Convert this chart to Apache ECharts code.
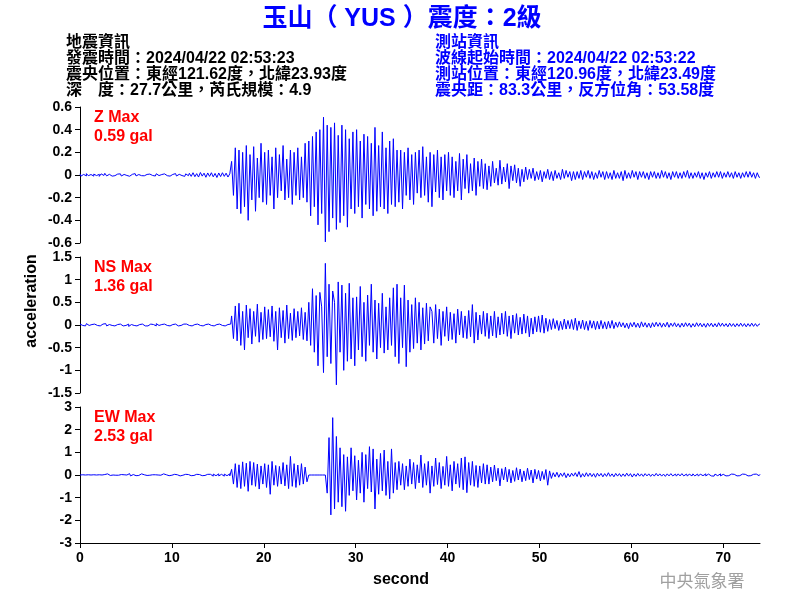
<!DOCTYPE html>
<html>
<head>
<meta charset="utf-8">
<script src="https://cdn.jsdelivr.net/npm/echarts@6/dist/echarts.min.js"></script>
<style>html,body{margin:0;padding:0;background:#fff}#c{width:800px;height:600px}</style>
</head>
<body>
<div id="c"></div>
<script>
// sample interval (seconds) of the traces below
const sampleStep = 0.2;
const timeMax = 74;
const xTicks = [0, 10, 20, 30, 40, 50, 60, 70];

// Z component (gal)
const zValues = [
0.01,-0.01,0.005,-0.008,0.012,-0.006,0.004,-0.01,0.008,-0.005,
0.006,-0.012,0.01,-0.004,0.015,-0.008,0.006,-0.01,0.004,-0.006,
0.008,-0.005,0.01,-0.009,0.005,-0.004,0.007,-0.011,0.006,-0.005,
0.012,-0.008,0.004,-0.006,0.009,-0.007,0.005,-0.012,0.008,-0.004,
0.006,-0.009,0.011,-0.005,0.004,-0.008,0.01,-0.006,0.007,-0.01,
0.005,-0.007,0.012,-0.009,0.006,-0.005,0.008,-0.012,0.01,-0.006,
0.015,-0.012,0.02,-0.015,0.012,-0.018,0.022,-0.01,0.016,-0.02,
0.018,-0.012,0.02,-0.016,0.014,-0.022,0.018,-0.014,0.02,-0.012,0.016,-0.018,0.01,
0.12,-0.18,0.24,-0.3,0.22,-0.34,0.2,-0.28,0.26,-0.4,
0.18,-0.22,0.25,-0.32,0.15,-0.2,0.28,-0.24,0.2,-0.26,
0.22,-0.18,0.16,-0.3,0.24,-0.2,0.18,-0.14,0.26,-0.22,
0.14,-0.2,0.22,-0.26,0.2,-0.18,0.24,-0.22,0.16,-0.2,0.28,-0.24,
0.3,-0.36,0.34,-0.28,0.38,-0.44,0.4,-0.34,0.51,-0.59,
0.44,-0.5,0.42,-0.38,0.46,-0.48,0.35,-0.42,0.44,-0.36,0.4,-0.46,0.32,-0.3,0.38,
-0.34,0.4,-0.28,0.3,-0.38,0.36,-0.26,0.34,-0.3,0.28,-0.36,0.42,-0.32,0.26,-0.28,0.38,-0.3,0.24,-0.34,0.3,-0.26,0.32,-0.28,0.22,
-0.24,0.22,-0.3,0.2,-0.18,0.24,-0.22,0.18,-0.26,0.2,-0.16,0.22,-0.2,0.25,-0.18,0.16,-0.24,0.2,-0.28,0.18,-0.15,0.22,-0.2,0.16,-0.22,0.18,-0.14,0.2,-0.18,
0.16,-0.2,0.12,-0.14,0.19,-0.22,0.14,-0.12,0.18,-0.16,0.1,-0.14,0.15,-0.18,0.12,-0.1,0.14,-0.12,0.1,-0.13,
0.08,-0.1,0.12,-0.07,0.06,-0.09,0.13,-0.08,0.07,-0.06,0.1,-0.12,0.08,-0.05,0.09,-0.07,0.06,-0.1,0.05,-0.06,0.07,
-0.04,0.05,-0.03,0.06,-0.05,0.03,-0.04,0.04,-0.06,0.03,
-0.03,0.05,-0.04,0.03,-0.05,0.04,-0.03,0.02,-0.04,0.05,
-0.03,0.04,-0.02,0.03,-0.05,0.03,-0.04,0.03,-0.03,0.04,
-0.04,0.03,-0.02,0.04,-0.03,0.03,-0.04,0.02,-0.03,0.04,
-0.02,0.03,-0.04,0.03,-0.03,0.02,-0.04,0.04,-0.03,0.02,
-0.03,0.03,-0.05,0.04,-0.03,0.02,-0.03,0.04,-0.02,0.03,
-0.04,0.03,-0.02,0.03,-0.03,0.02,-0.04,0.03,-0.02,0.03,
-0.03,0.02,-0.03,0.04,-0.02,0.03,-0.03,0.02,-0.04,0.03,
-0.02,0.03,-0.03,0.02,-0.03,0.03,-0.02,0.04,-0.03,0.02,
-0.03,0.02,-0.02,0.03,-0.03,0.02,-0.04,0.02,-0.02,0.03,
-0.03,0.02,-0.02,0.03,-0.02,0.03,-0.03,0.02,-0.02,0.03,
-0.02,0.02,-0.03,0.03,-0.02,0.02,-0.03,0.02,-0.02,0.03,
-0.02,0.03,-0.02,0.02,-0.03,0.02,-0.02
];

// NS component (gal)
const nsValues = [
0.02,-0.01,0.01,-0.02,0.03,-0.01,0.01,-0.02,0.02,-0.01,
0.01,-0.02,0.02,-0.01,0.03,-0.02,0.01,-0.01,0.02,-0.02,
0.01,-0.01,0.02,-0.02,0.01,-0.01,0.02,-0.03,0.01,-0.01,
0.02,-0.02,0.01,-0.01,0.02,-0.02,0.01,-0.02,0.02,-0.01,
0.01,-0.02,0.03,-0.01,0.01,-0.02,0.02,-0.01,0.02,-0.02,
0.01,-0.01,0.02,-0.02,0.01,-0.01,0.02,-0.02,0.02,-0.01,
0.02,-0.02,0.01,-0.02,0.02,-0.01,0.02,-0.02,0.01,-0.02,
0.02,-0.01,0.02,-0.02,0.01,-0.02,0.02,-0.01,0.02,-0.02,0.01,-0.01,0.02,
0.2,-0.3,0.42,-0.35,0.48,-0.45,0.3,-0.55,0.44,-0.28,
0.36,-0.42,0.3,-0.25,0.46,-0.38,0.28,-0.32,0.4,-0.3,
0.34,-0.26,0.42,-0.36,0.3,-0.55,0.38,-0.28,0.32,-0.4,
0.44,-0.3,0.26,-0.34,0.36,-0.28,0.3,-0.24,0.38,-0.32,0.28,-0.35,
0.5,-0.45,0.8,-0.6,0.65,-0.9,0.72,0.4,-1.05,1.36,
-0.7,0.9,-0.85,0.75,0.5,-1.32,0.95,-0.6,0.88,-1.0,0.7,-0.8,0.92,-0.75,0.6,
-0.9,0.62,-0.55,0.85,-0.7,0.5,-0.8,0.66,-0.45,0.9,
-0.6,0.55,-0.75,0.48,-0.5,0.7,-0.62,0.4,-0.55,0.6,
-0.45,0.82,-0.7,0.9,-0.85,0.6,-0.5,0.88,-0.92,0.55,
-0.6,0.45,-0.52,0.6,-0.4,0.5,-0.55,0.38,-0.42,0.48,-0.35,0.4,
0.3,-0.4,0.45,-0.3,0.35,-0.45,0.3,-0.25,0.4,-0.35,
0.28,-0.32,0.25,-0.4,0.35,-0.22,0.3,-0.28,0.2,-0.3,
0.32,-0.26,0.45,-0.4,0.28,-0.33,0.22,-0.2,0.3,-0.25,
0.26,-0.3,0.2,-0.24,0.3,-0.28,0.18,-0.22,0.26,-0.2,
0.3,-0.25,0.2,-0.3,0.22,-0.18,0.25,-0.22,0.17,-0.2,
0.24,-0.18,0.2,-0.26,0.15,-0.2,0.18,-0.15,0.2,-0.16,0.22,-0.18,0.15,-0.14,
0.12,-0.1,0.14,-0.08,0.1,-0.12,0.08,-0.1,0.13,-0.09,
0.1,-0.08,0.12,-0.1,0.15,-0.12,0.09,-0.08,0.11,-0.1,
0.08,-0.12,0.1,-0.07,0.09,-0.1,0.08,-0.09,0.1,-0.08,0.07,-0.09,0.08,-0.07,0.1,-0.08,
0.06,-0.05,0.07,-0.04,0.05,-0.06,0.04,-0.08,0.05,-0.04,
0.06,-0.05,0.04,-0.06,0.07,-0.04,0.05,-0.05,0.04,-0.06,
0.05,-0.04,0.06,-0.03,0.05,-0.05,0.04,-0.04,0.06,-0.05,
0.04,-0.03,0.05,-0.04,0.03,-0.05,0.04,-0.04,0.05,-0.03,
0.04,-0.05,0.03,-0.04,0.05,-0.03,0.04,-0.04,0.03,-0.05,
0.04,-0.03,0.04,-0.04,0.03,-0.04,0.05,-0.03,0.04,-0.03,
0.03,-0.04,0.04,-0.03,0.03,-0.04,0.03,-0.03,0.04,-0.03,
0.03,-0.04,0.03,-0.03,0.04,-0.03,0.03,-0.03,0.02
];

// EW component (gal)
const ewValues = [
0,0.01,-0.01,0,0.01,-0.02,0,0.01,-0.01,0,
0.01,-0.01,0,0.02,-0.01,0.05,-0.02,0.01,0,-0.01,
0.01,-0.01,0.02,-0.01,0.01,0,-0.02,0.06,-0.04,0.02,
-0.03,0.04,-0.02,0.05,-0.03,0.01,-0.02,0.02,-0.01,0.01,
-0.02,0.01,0,0.02,-0.01,0.05,-0.02,0.01,-0.03,0.02,
-0.01,0.03,-0.02,0.01,-0.04,0.02,-0.01,0.03,-0.02,0.02,
-0.03,0.04,-0.02,0.03,-0.04,0.02,-0.03,0.04,-0.02,0.03,
-0.04,0.03,-0.05,0.04,-0.03,0.05,-0.04,0.03,-0.05,0.04,-0.03,0.05,-0.04,
0.25,-0.4,0.5,-0.55,0.45,-0.6,0.58,-0.5,0.52,-0.72,
0.6,-0.45,0.55,-0.5,0.48,-0.62,0.4,-0.4,0.5,-0.55,
0.45,-0.85,0.6,-0.45,0.42,-0.5,0.38,-0.4,0.55,-0.48,
0.45,-0.6,0.82,-0.5,0.5,-0.55,0.44,-0.45,0.5,-0.4,0.35,-0.3,
0,0,0,0,0,0,0,0,0,0,
-0.8,1.65,-1.76,2.53,-1.5,1.7,-1.2,1.2,-1.4,0.9,
-1.6,0.8,-0.9,1.2,-0.7,0.85,-1.1,0.65,-0.8,1.0,
-1.2,0.9,-0.6,1.25,-0.75,1.15,-1.5,0.7,-0.85,0.95,
-0.7,1.1,-0.9,0.6,-1.05,1.15,-0.8,0.55,-0.65,
0.6,-0.45,0.5,-0.65,0.4,-0.5,0.7,-0.4,0.55,-0.6,
0.45,-0.35,0.88,-0.55,0.5,-0.45,0.6,-0.8,0.4,-0.5,
0.75,-0.42,0.55,-0.6,0.38,-0.45,0.82,-0.5,0.45,-0.7,
0.6,-0.4,0.5,-0.55,0.75,-0.65,0.8,-0.78,0.55,-0.45,
0.6,-0.5,0.42,-0.55,0.4,-0.35,0.5,-0.4,0.45,
-0.4,0.35,-0.3,0.44,-0.25,0.3,-0.48,0.28,-0.22,0.35,
-0.3,0.25,-0.35,0.2,-0.28,0.32,-0.22,0.26,-0.3,0.18,
-0.25,0.3,-0.2,0.22,-0.35,0.25,-0.18,0.2,-0.26,0.16,-0.2,0.24,-0.45,0.18,-0.15,
0.1,-0.08,0.12,-0.1,0.08,-0.06,0.1,-0.12,0.06,-0.08,
0.08,-0.05,0.1,-0.07,0.15,-0.1,0.06,-0.08,0.1,-0.06,
0.08,-0.07,0.06,-0.1,0.08,-0.05,0.07,-0.08,0.06,-0.06,
0.1,-0.06,0.05,-0.08,0.07,-0.05,0.06,-0.07,0.05,-0.06,
0.08,-0.05,0.06,-0.09,0.05,-0.06,0.07,-0.05,0.05,-0.06,
0.06,-0.04,0.05,-0.06,0.04,-0.05,0.07,-0.04,0.05,-0.05,
0.04,-0.06,0.05,-0.04,0.06,-0.04,0.04,-0.05,0.05,-0.04,
0.06,-0.04,0.04,-0.05,0.04,-0.04,0.05,-0.04,0.04,-0.05,
0.04,-0.03,0.05,-0.04,0.04,-0.04,0.03,-0.05,0.04,-0.03,
0.05,-0.04,0.03,-0.04,0.04,-0.03,0.04,-0.04,0.03,-0.04,
0.04,-0.03,0.04,-0.03,0.03,-0.04,0.04,-0.03,0.03,-0.03,0.04,-0.03,0.03
];

const panelNames = ['Z Max', 'NS Max', 'EW Max'];
const panelMaxLabels = ['0.59 gal', '1.36 gal', '2.53 gal'];
const yLimits = [0.6, 1.5, 3];
const yIntervals = [0.2, 0.5, 1];

const titleText = '玉山（ YUS ）震度：2級';
const quakeInfo = ['地震資訊', '發震時間：2024/04/22 02:53:23', '震央位置：東經121.62度，北緯23.93度', '深　度：27.7公里，芮氏規模：4.9'];
const stationInfo = ['測站資訊', '波線起始時間：2024/04/22 02:53:22', '測站位置：東經120.96度，北緯23.49度', '震央距：83.3公里，反方位角：53.58度'];
const yAxisTitle = 'acceleration';
const xAxisTitle = 'second';
const creditText = '中央氣象署';

const FONT = "'Liberation Sans', 'Noto Sans CJK TC', Arial, sans-serif";
const BLUE = '#0000ff';

function toPairs(vals) {
  return vals.map((v, i) => [Math.round(i * sampleStep * 1000) / 1000, v]);
}
const traces = [zValues, nsValues, ewValues];

const gridTops = [107, 257, 407];
const gridH = 136;

const grids = gridTops.map(t => ({ left: 80, right: 40, top: t, height: gridH }));
const xAxes = gridTops.map((t, k) => ({
  type: 'value', gridIndex: k, min: 0, max: timeMax, interval: 10,
  show: k === 2,
  axisLine: { show: true, onZero: false, lineStyle: { color: '#000', width: 1 } },
  axisTick: { show: true, inside: false, length: 5, lineStyle: { color: '#000' } },
  axisLabel: { show: true, color: '#000', fontFamily: FONT, fontWeight: 'bold', fontSize: 14, margin: 8,
    showMaxLabel: false, formatter: v => (xTicks.indexOf(v) >= 0 ? String(v) : '') },
  splitLine: { show: false }
}));
const yAxes = yLimits.map((m, k) => ({
  type: 'value', gridIndex: k, min: -m, max: m, interval: yIntervals[k],
  axisLine: { show: true, lineStyle: { color: '#000', width: 1 } },
  axisTick: { show: true, inside: false, length: 5, lineStyle: { color: '#000' } },
  axisLabel: { color: '#000', fontFamily: FONT, fontWeight: 'bold', fontSize: 14, margin: 8,
    formatter: v => String(Math.round(v * 10) / 10) },
  splitLine: { show: false }
}));
const series = traces.map((vals, k) => ({
  type: 'line', xAxisIndex: k, yAxisIndex: k, data: toPairs(vals),
  showSymbol: false, symbol: 'none', step: 'middle', sampling: null,
  lineStyle: { color: BLUE, width: 1 }, itemStyle: { color: BLUE },
  silent: true, animation: false
}));

const graphic = [];
graphic.push({ type: 'text', x: 402, y: 19, style: { text: titleText, fill: BLUE, font: "bold 25px " + FONT, textAlign: 'center', textVerticalAlign: 'middle' } });
quakeInfo.forEach((s, i) => graphic.push({ type: 'text', x: 66, y: 43 + i * 16, style: { text: s, fill: '#000', font: "bold 16px " + FONT, textAlign: 'left', textVerticalAlign: 'middle' } }));
stationInfo.forEach((s, i) => graphic.push({ type: 'text', x: 435, y: 43 + i * 16, style: { text: s, fill: BLUE, font: "bold 16px " + FONT, textAlign: 'left', textVerticalAlign: 'middle' } }));
gridTops.forEach((t, k) => {
  graphic.push({ type: 'text', x: 94, y: t + 11, style: { text: panelNames[k], fill: '#ff0000', font: "bold 16px " + FONT, textAlign: 'left', textVerticalAlign: 'middle' } });
  graphic.push({ type: 'text', x: 94, y: t + 30, style: { text: panelMaxLabels[k], fill: '#ff0000', font: "bold 16px " + FONT, textAlign: 'left', textVerticalAlign: 'middle' } });
});
graphic.push({ type: 'text', x: 32, y: 301, rotation: Math.PI / 2, style: { text: yAxisTitle, fill: '#000', font: "bold 16px " + FONT, textAlign: 'center', textVerticalAlign: 'middle' } });
graphic.push({ type: 'text', x: 401, y: 580, style: { text: xAxisTitle, fill: '#000', font: "bold 16px " + FONT, textAlign: 'center', textVerticalAlign: 'middle' } });
graphic.push({ type: 'text', x: 702, y: 581, style: { text: creditText, fill: '#a0a0a0', font: "17px 'Noto Sans CJK TC', serif", textAlign: 'center', textVerticalAlign: 'middle' } });

const chart = echarts.init(document.getElementById('c'), null, { renderer: 'canvas' });
chart.setOption({
  animation: false,
  backgroundColor: '#fff',
  grid: grids, xAxis: xAxes, yAxis: yAxes, series: series, graphic: graphic
});
</script>
</body>
</html>
